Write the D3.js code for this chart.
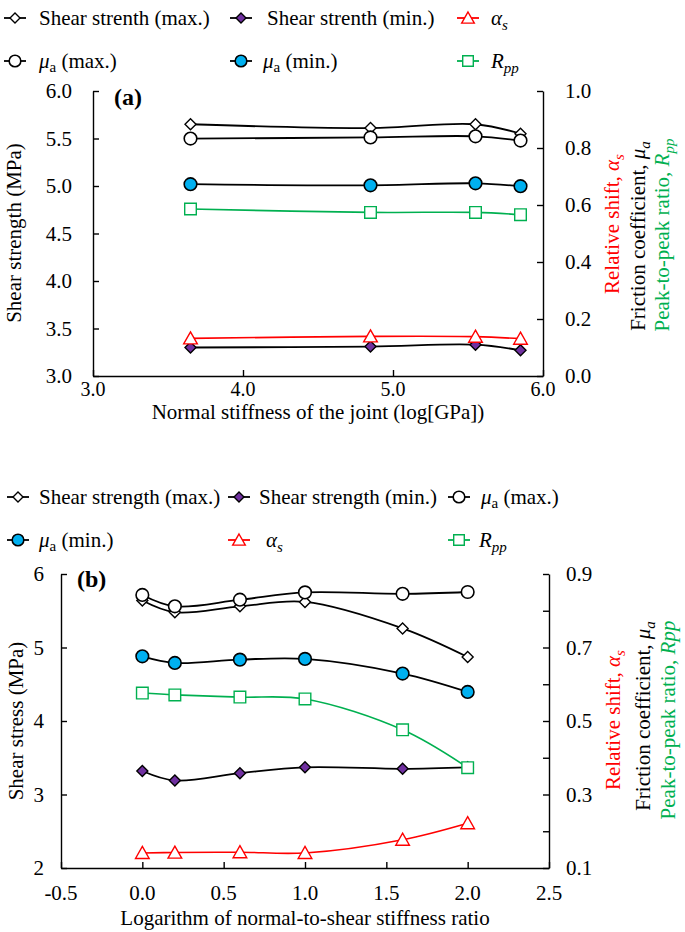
<!DOCTYPE html>
<html><head><meta charset="utf-8">
<script src="https://cdn.jsdelivr.net/npm/d3@7"></script>
<style>
html,body{margin:0;padding:0;background:#fff;}
</style></head>
<body>
<svg id="chart" width="685" height="932"></svg>
<script>
// ---------- Panel (a) data ----------
const aX = [3.65, 4.85, 5.55, 5.85];
const aShearMax = [5.65, 5.61, 5.65, 5.55];
const aShearMin = [3.30, 3.31, 3.33, 3.27];
const aMuMax = [0.833, 0.837, 0.841, 0.826];
const aMuMin = [0.673, 0.669, 0.676, 0.666];
const aAlpha = [0.132, 0.139, 0.138, 0.131];
const aRpp = [0.586, 0.574, 0.574, 0.566];
const aXTicks = [3.0, 4.0, 5.0, 6.0];
const aYLeftTicks = [3.0, 3.5, 4.0, 4.5, 5.0, 5.5, 6.0];
const aYRightTicks = [0.0, 0.2, 0.4, 0.6, 0.8, 1.0];

// ---------- Panel (b) data ----------
const bX = [0.0, 0.2, 0.6, 1.0, 1.6, 2.0];
const bShearMax = [5.64, 5.48, 5.56, 5.62, 5.26, 4.87];
const bShearMin = [3.32, 3.19, 3.29, 3.37, 3.35, 3.37];
const bMuMax = [0.843, 0.812, 0.830, 0.850, 0.846, 0.851];
const bMuMin = [0.676, 0.658, 0.667, 0.669, 0.629, 0.579];
const bAlpha = [0.141, 0.142, 0.143, 0.141, 0.177, 0.222];
const bRpp = [0.576, 0.571, 0.565, 0.560, 0.476, 0.373];
const bXTicks = [-0.5, 0.0, 0.5, 1.0, 1.5, 2.0, 2.5];
const bYLeftTicks = [2, 3, 4, 5, 6];
const bYRightTicks = [0.1, 0.2, 0.3, 0.4, 0.5, 0.6, 0.7, 0.8, 0.9];
const bYRightLabels = [0.1, 0.3, 0.5, 0.7, 0.9];

const BLUE = "#00B0F0", PURPLE = "#7030A0", RED = "#FF0000", GREEN = "#00B050";
const FS = 21;
const FONT = "'Liberation Serif', Tinos, 'Noto Serif', 'DejaVu Serif', 'Times New Roman', serif";

const svg = d3.select("#chart");

function shapePath(type, s) {
  if (type === "diamond") return `M0,${-s}L${s},0L0,${s}L${-s},0Z`;
  if (type === "triangle") return `M0,${-s}L${s*1.05},${s*0.85}L${-s*1.05},${s*0.85}Z`;
  if (type === "square") return `M${-s},${-s}H${s}V${s}H${-s}Z`;
  if (type === "circle") return d3.symbol(d3.symbolCircle, Math.PI*s*s)();
}

function drawMarker(g, type, x, y, s, fill, stroke) {
  g.append("path").attr("d", shapePath(type, s))
    .attr("transform", `translate(${x},${y})`)
    .attr("fill", fill).attr("stroke", stroke).attr("stroke-width", type === "circle" ? 1.6 : 1.4);
}

function drawSeries(g, xs, ys, sx, sy, spec) {
  const pts = xs.map((x, i) => [sx(x), sy(ys[i])]);
  g.append("path").datum(pts)
    .attr("d", d3.line().curve(d3.curveCatmullRom.alpha(0.5)))
    .attr("fill", "none").attr("stroke", spec.line).attr("stroke-width", spec.lw || 1.8);
  pts.forEach(p => drawMarker(g, spec.shape, p[0], p[1], spec.size, spec.fill, spec.stroke));
}

function styleAxis(g) {
  g.selectAll("path.domain").attr("stroke", "#000").attr("stroke-width", 1.4);
  g.selectAll(".tick line").attr("stroke", "#000").attr("stroke-width", 1.4);
  g.selectAll("text").remove();
}

function txt(g) { return g.append("text").style("font-family", FONT).attr("font-size", FS); }

function legendItem(g, x, y, spec, textFn, tx) {
  g.append("line").attr("x1", x - 11).attr("x2", x + 11).attr("y1", y).attr("y2", y)
    .attr("stroke", spec.line).attr("stroke-width", 1.8);
  drawMarker(g, spec.shape, x, y, spec.size - 0.5, spec.fill, spec.stroke);
  const t = txt(g).attr("x", tx).attr("y", y + 7).attr("fill", "#000");
  textFn(t);
}

const specs = {
  shearMax: {shape: "diamond", size: 5.5, fill: "#fff", stroke: "#000", line: "#000"},
  shearMin: {shape: "diamond", size: 5.5, fill: PURPLE, stroke: "#000", line: "#000"},
  muMax: {shape: "circle", size: 6.3, fill: "#fff", stroke: "#000", line: "#000"},
  muMin: {shape: "circle", size: 6.3, fill: BLUE, stroke: "#000", line: "#000"},
  alpha: {shape: "triangle", size: 6.5, fill: "#fff", stroke: RED, line: RED, lw: 1.6},
  rpp: {shape: "square", size: 5.8, fill: "#fff", stroke: GREEN, line: GREEN, lw: 1.6}
};

const txtMu = (t, suffix) => { t.append("tspan").attr("font-style", "italic").text("μ");
  t.append("tspan").attr("font-size", 15).attr("dy", 4).text("a");
  t.append("tspan").attr("dy", -4).text(" " + suffix); };
const txtAlpha = t => { t.append("tspan").attr("font-style", "italic").text("α");
  t.append("tspan").attr("font-style", "italic").attr("font-size", 15).attr("dy", 5).text("s"); };
const txtRpp = t => { t.append("tspan").attr("font-style", "italic").text("R");
  t.append("tspan").attr("font-style", "italic").attr("font-size", 15).attr("dy", 5).text("pp"); };

function rightTitles(g, xs, ys, rppSub) {
  const r1 = txt(g).attr("transform", `translate(${xs[0]},${ys[0]}) rotate(-90)`).attr("text-anchor", "middle").attr("fill", RED);
  r1.append("tspan").text("Relative shift, ");
  r1.append("tspan").attr("font-style", "italic").text("α");
  r1.append("tspan").attr("font-style", "italic").attr("font-size", 15).attr("dy", 5).text("s");
  const r2 = txt(g).attr("transform", `translate(${xs[1]},${ys[1]}) rotate(-90)`).attr("text-anchor", "middle").attr("fill", "#000");
  r2.append("tspan").text("Friction coefficient, ");
  r2.append("tspan").attr("font-style", "italic").text("μ");
  r2.append("tspan").attr("font-style", "italic").attr("font-size", 15).attr("dy", 5).text("a");
  const r3 = txt(g).attr("transform", `translate(${xs[2]},${ys[2]}) rotate(-90)`).attr("text-anchor", "middle").attr("fill", GREEN);
  r3.append("tspan").text("Peak-to-peak ratio, ");
  if (rppSub) {
    r3.append("tspan").attr("font-style", "italic").text("R");
    r3.append("tspan").attr("font-style", "italic").attr("font-size", 15).attr("dy", 5).text("pp");
  } else {
    r3.append("tspan").attr("font-style", "italic").text("Rpp");
  }
}

// =============== PANEL (a) ===============
{
  const x = d3.scaleLinear().domain([3, 6]).range([93, 543]);
  const yL = d3.scaleLinear().domain([3, 6]).range([376, 91]);
  const yR = d3.scaleLinear().domain([0, 1]).range([376, 91]);
  const g = svg.append("g");

  styleAxis(g.append("g").attr("transform", "translate(0,376)")
    .call(d3.axisBottom(x).tickValues(aXTicks).tickSizeInner(-6).tickSizeOuter(0)));
  styleAxis(g.append("g").attr("transform", "translate(93,0)")
    .call(d3.axisLeft(yL).tickValues(aYLeftTicks).tickSizeInner(-6).tickSizeOuter(0)));
  styleAxis(g.append("g").attr("transform", "translate(543,0)")
    .call(d3.axisRight(yR).tickValues(aYRightTicks).tickSizeInner(-6).tickSizeOuter(0)));

  aXTicks.forEach(v => txt(g).attr("x", x(v)).attr("y", 396).attr("font-size", 20).attr("text-anchor", "middle").text(v.toFixed(1)));
  aYLeftTicks.forEach(v => txt(g).attr("x", 72).attr("y", yL(v) + 7).attr("text-anchor", "end").text(v.toFixed(1)));
  aYRightTicks.forEach(v => txt(g).attr("x", 565).attr("y", yR(v) + 7).text(v.toFixed(1)));

  txt(g).attr("x", 318).attr("y", 419).attr("text-anchor", "middle").text("Normal stiffness of the joint (log[GPa])");
  txt(g).attr("transform", "translate(21,233) rotate(-90)").attr("text-anchor", "middle").text("Shear strength (MPa)");

  rightTitles(g, [619, 645, 669], [224, 236, 235], true);

  txt(g).attr("x", 114).attr("y", 105).attr("font-size", 24).attr("font-weight", "bold").text("(a)");

  drawSeries(g, aX, aShearMin, x, yL, specs.shearMin);
  drawSeries(g, aX, aAlpha, x, yR, specs.alpha);
  drawSeries(g, aX, aRpp, x, yR, specs.rpp);
  drawSeries(g, aX, aMuMin, x, yR, specs.muMin);
  drawSeries(g, aX, aShearMax, x, yL, specs.shearMax);
  drawSeries(g, aX, aMuMax, x, yR, specs.muMax);

  const lg = svg.append("g");
  legendItem(lg, 15, 18, specs.shearMax, t => t.text("Shear strenth (max.)"), 39);
  legendItem(lg, 241, 18, specs.shearMin, t => t.text("Shear strenth (min.)"), 267);
  legendItem(lg, 468, 18, specs.alpha, txtAlpha, 491);
  legendItem(lg, 15, 61, specs.muMax, t => txtMu(t, "(max.)"), 39);
  legendItem(lg, 241, 61, specs.muMin, t => txtMu(t, "(min.)"), 263);
  legendItem(lg, 468, 61, specs.rpp, txtRpp, 491);
}

// =============== PANEL (b) ===============
{
  const x = d3.scaleLinear().domain([-0.5, 2.5]).range([61, 549]);
  const yL = d3.scaleLinear().domain([2, 6]).range([868, 574]);
  const yR = d3.scaleLinear().domain([0.1, 0.9]).range([868, 574]);
  const g = svg.append("g");

  styleAxis(g.append("g").attr("transform", "translate(0,868)")
    .call(d3.axisBottom(x).tickValues(bXTicks).tickSizeInner(-6).tickSizeOuter(0)));
  styleAxis(g.append("g").attr("transform", "translate(61,0)")
    .call(d3.axisLeft(yL).tickValues(bYLeftTicks).tickSizeInner(-6).tickSizeOuter(0)));
  styleAxis(g.append("g").attr("transform", "translate(549,0)")
    .call(d3.axisRight(yR).tickValues(bYRightTicks).tickSizeInner(-6).tickSizeOuter(0)));

  bXTicks.forEach(v => txt(g).attr("x", x(v)).attr("y", 900).attr("text-anchor", "middle").text(v.toFixed(1)));
  bYLeftTicks.forEach(v => txt(g).attr("x", 44).attr("y", yL(v) + 7).attr("text-anchor", "end").text(String(v)));
  bYRightLabels.forEach(v => txt(g).attr("x", 566).attr("y", yR(v) + 7).text(v.toFixed(1)));

  txt(g).attr("x", 305).attr("y", 925).attr("text-anchor", "middle").text("Logarithm of normal-to-shear stiffness ratio");
  txt(g).attr("transform", "translate(23,721) rotate(-90)").attr("text-anchor", "middle").text("Shear stress (MPa)");

  rightTitles(g, [620, 650, 675], [720, 716, 720], false);

  txt(g).attr("x", 77).attr("y", 587).attr("font-size", 24).attr("font-weight", "bold").text("(b)");

  drawSeries(g, bX, bShearMin, x, yL, specs.shearMin);
  drawSeries(g, bX, bAlpha, x, yR, specs.alpha);
  drawSeries(g, bX, bRpp, x, yR, specs.rpp);
  drawSeries(g, bX, bMuMin, x, yR, specs.muMin);
  drawSeries(g, bX, bShearMax, x, yL, specs.shearMax);
  drawSeries(g, bX, bMuMax, x, yR, specs.muMax);

  const lg = svg.append("g");
  legendItem(lg, 18, 497, specs.shearMax, t => t.text("Shear strength (max.)"), 39);
  legendItem(lg, 239, 497, specs.shearMin, t => t.text("Shear strength (min.)"), 259);
  legendItem(lg, 459, 497, specs.muMax, t => txtMu(t, "(max.)"), 481);
  legendItem(lg, 18, 540, specs.muMin, t => txtMu(t, "(min.)"), 39);
  legendItem(lg, 239, 540, specs.alpha, txtAlpha, 266);
  legendItem(lg, 459, 540, specs.rpp, txtRpp, 479);
}
</script>
</body></html>
